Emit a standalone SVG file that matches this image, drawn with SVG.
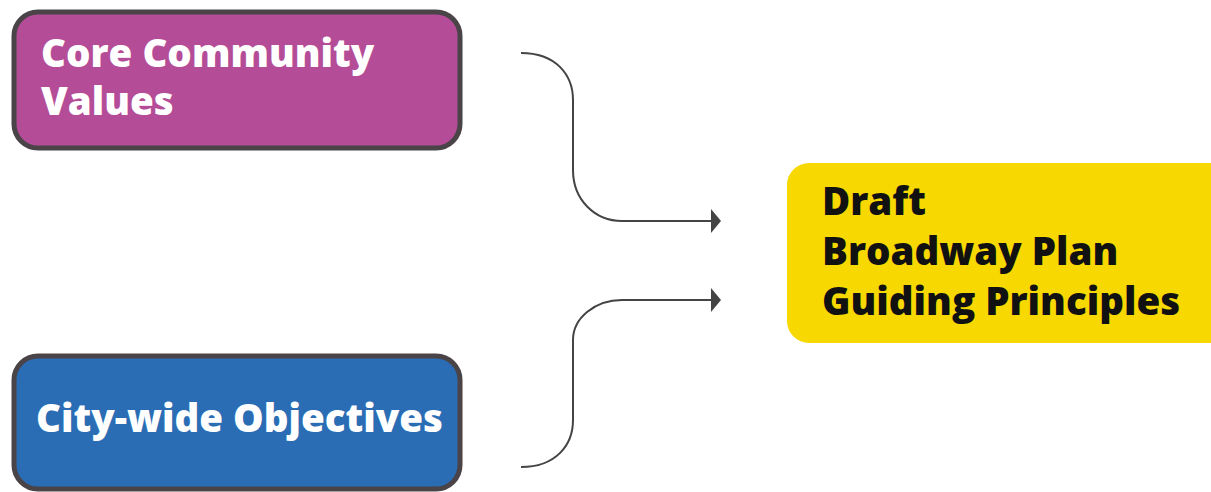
<svg xmlns="http://www.w3.org/2000/svg" width="1211" height="492" viewBox="0 0 1211 492">
<style>
.box{stroke:#4a4448;stroke-width:5}
.lbl{font-family:"Open Sans","Liberation Sans",sans-serif;font-weight:800;font-size:38.5px}
.w{fill:#ffffff}
.k{fill:#111111}
.con{fill:none;stroke:#444444;stroke-width:2}
</style>
<defs>
<marker id="ah" markerUnits="userSpaceOnUse" markerWidth="12" markerHeight="24" refX="0" refY="12" orient="auto">
<polygon points="0,0 10,12 0,24" fill="#444444"/>
</marker>
</defs>
<rect width="1211" height="492" fill="#ffffff"/>
<g id="core">
<rect class="box" x="14" y="12" width="446" height="136" rx="24" fill="#b54c97"/>
<text class="lbl w" x="41" y="67">Core Community</text>
<text class="lbl w" x="41" y="115">Values</text>
</g>
<g id="city">
<rect class="box" x="14" y="356" width="446" height="133" rx="24" fill="#2a6db5"/>
<text class="lbl w" x="36" y="432">City-wide Objectives</text>
</g>
<g id="draft">
<rect x="787" y="163" width="450" height="180" rx="22" fill="#f7d800"/>
<text class="lbl k" x="822" y="215">Draft</text>
<text class="lbl k" x="822" y="265">Broadway Plan</text>
<text class="lbl k" x="822" y="315">Guiding Principles</text>
</g>
<g id="connectors">
<path class="con" marker-end="url(#ah)" d="M521,53 C556,53 573,75 573,100 L573,170 C573,200 595,221 622,221 L711,221"/>
<path class="con" marker-end="url(#ah)" d="M521,467 C556,467 573,445 573,420 L573,340 C573,318 595,300 622,300 L711,300"/>
</g>
</svg>
